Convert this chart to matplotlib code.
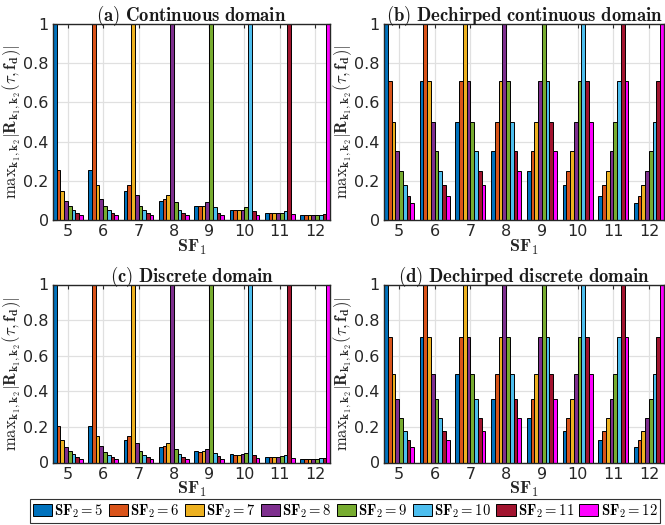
import matplotlib
matplotlib.use("Agg")
import matplotlib.pyplot as plt
import numpy as np

plt.rcParams["mathtext.fontset"] = "cm"
plt.rcParams["font.family"] = "DejaVu Sans"

sf1 = [5, 6, 7, 8, 9, 10, 11, 12]
sf2_labels = [r"$\mathbf{SF_2}=%d$" % k for k in sf1]

# rows: SF1 = 5..12, columns: SF2 = 5..12
continuous = [
    [1.000, 0.254, 0.150, 0.099, 0.070, 0.050, 0.034, 0.024],
    [0.254, 1.000, 0.180, 0.106, 0.070, 0.050, 0.034, 0.024],
    [0.150, 0.180, 1.000, 0.126, 0.073, 0.050, 0.034, 0.024],
    [0.099, 0.106, 0.126, 1.000, 0.092, 0.051, 0.034, 0.024],
    [0.070, 0.070, 0.073, 0.092, 1.000, 0.065, 0.036, 0.024],
    [0.050, 0.050, 0.050, 0.051, 0.065, 1.000, 0.044, 0.027],
    [0.034, 0.034, 0.034, 0.034, 0.036, 0.044, 1.000, 0.032],
    [0.024, 0.024, 0.024, 0.024, 0.024, 0.027, 0.032, 1.000],
]
discrete = [
    [1.000, 0.206, 0.127, 0.088, 0.062, 0.045, 0.032, 0.022],
    [0.206, 1.000, 0.150, 0.093, 0.060, 0.043, 0.032, 0.022],
    [0.127, 0.150, 1.000, 0.107, 0.065, 0.043, 0.032, 0.022],
    [0.088, 0.093, 0.107, 1.000, 0.075, 0.045, 0.032, 0.022],
    [0.062, 0.060, 0.065, 0.075, 1.000, 0.054, 0.036, 0.022],
    [0.045, 0.043, 0.043, 0.045, 0.054, 1.000, 0.040, 0.024],
    [0.032, 0.032, 0.032, 0.032, 0.036, 0.040, 1.000, 0.028],
    [0.022, 0.022, 0.022, 0.022, 0.022, 0.024, 0.028, 1.000],
]
dechirped_cont = [
    [1.000, 0.707, 0.500, 0.354, 0.250, 0.177, 0.125, 0.088],
    [0.707, 1.000, 0.707, 0.500, 0.354, 0.250, 0.177, 0.125],
    [0.500, 0.707, 1.000, 0.707, 0.500, 0.354, 0.250, 0.177],
    [0.354, 0.500, 0.707, 1.000, 0.707, 0.500, 0.354, 0.250],
    [0.250, 0.354, 0.500, 0.707, 1.000, 0.707, 0.500, 0.354],
    [0.177, 0.250, 0.354, 0.500, 0.707, 1.000, 0.707, 0.500],
    [0.125, 0.177, 0.250, 0.354, 0.500, 0.707, 1.000, 0.707],
    [0.088, 0.125, 0.177, 0.250, 0.354, 0.500, 0.707, 1.000],
]
dechirped_disc = [
    [1.000, 0.707, 0.500, 0.354, 0.250, 0.177, 0.125, 0.088],
    [0.707, 1.000, 0.707, 0.500, 0.354, 0.250, 0.177, 0.125],
    [0.500, 0.707, 1.000, 0.707, 0.500, 0.354, 0.250, 0.177],
    [0.354, 0.500, 0.707, 1.000, 0.707, 0.500, 0.354, 0.250],
    [0.250, 0.354, 0.500, 0.707, 1.000, 0.707, 0.500, 0.354],
    [0.177, 0.250, 0.354, 0.500, 0.707, 1.000, 0.707, 0.500],
    [0.125, 0.177, 0.250, 0.354, 0.500, 0.707, 1.000, 0.707],
    [0.088, 0.125, 0.177, 0.250, 0.354, 0.500, 0.707, 1.000],
]

titles = [
    r"$\mathbf{(a)\ Continuous\ domain}$",
    r"$\mathbf{(b)\ Dechirped\ continuous\ domain}$",
    r"$\mathbf{(c)\ Discrete\ domain}$",
    r"$\mathbf{(d)\ Dechirped\ discrete\ domain}$",
]

colors = ["#0072BD", "#D95319", "#EDB120", "#7E2F8E",
          "#77AC30", "#4DBEEE", "#A2142F", "#FF00FF"]

ylabel = (r"$\mathrm{max}_{\mathbf{k_1,k_2}}"
          r"|\mathbf{R}_{\mathbf{k_1,k_2}}(\tau,\mathbf{f_d})|$")

W, H = 665, 525
fig = plt.figure(figsize=(W / 100, H / 100), dpi=100)

boxes = [
    (53, 24, 330, 220),
    (384, 24, 664, 220),
    (53, 284.5, 330, 462.5),
    (384, 284.5, 664, 462.5),
]

n = len(sf1)
group_w = n / (n + 1.5)
bar_w = group_w / n
x = np.array(sf1, dtype=float)

handles = None
for data, title, (l, t, r, b) in zip(
    [continuous, dechirped_cont, discrete, dechirped_disc], titles, boxes
):
    ax = fig.add_axes([l / W, (H - b) / H, (r - l) / W, (b - t) / H])
    arr = np.array(data)
    hs = []
    for j in range(n):
        offs = x - group_w / 2 + bar_w * (j + 0.5)
        h = ax.bar(offs, arr[:, j], width=bar_w, color=colors[j],
                   edgecolor="black", linewidth=0.7, zorder=2)
        hs.append(h)
    handles = hs
    ax.set_xlim(x[0] - group_w / 2, x[-1] + group_w / 2)
    ax.set_ylim(0, 1)
    ax.set_xticks(sf1)
    ax.set_yticks([0, 0.2, 0.4, 0.6, 0.8, 1])
    ax.set_yticklabels(["0", "0.2", "0.4", "0.6", "0.8", "1"])
    ax.grid(True, color="#e0e0e0", linewidth=0.9)
    ax.set_axisbelow(True)
    ax.tick_params(direction="in", length=3, top=True, right=True,
                   labelsize=11.5, colors="#262626", width=0.8, pad=3)
    for s in ax.spines.values():
        s.set_color("#262626")
        s.set_linewidth(1.0)
    ax.set_title(title, fontsize=13.5, pad=2, color="#1a1a1a")
    ax.set_xlabel(r"$\mathbf{SF_1}$", fontsize=13, labelpad=-1, color="#262626")
    ax.set_ylabel(ylabel, fontsize=12, labelpad=0, color="#262626")

leg = fig.legend(handles, sf2_labels, loc="center",
                 bbox_to_anchor=(345 / W, 1 - 511 / H), ncol=8,
                 fontsize=10.6, frameon=True, fancybox=False,
                 handlelength=1.3, handleheight=0.9, handletextpad=0.15,
                 columnspacing=0.35, borderpad=0.2, borderaxespad=0)
leg.get_frame().set_edgecolor("black")
leg.get_frame().set_linewidth(0.8)

fig.savefig("out.png", dpi=100)
